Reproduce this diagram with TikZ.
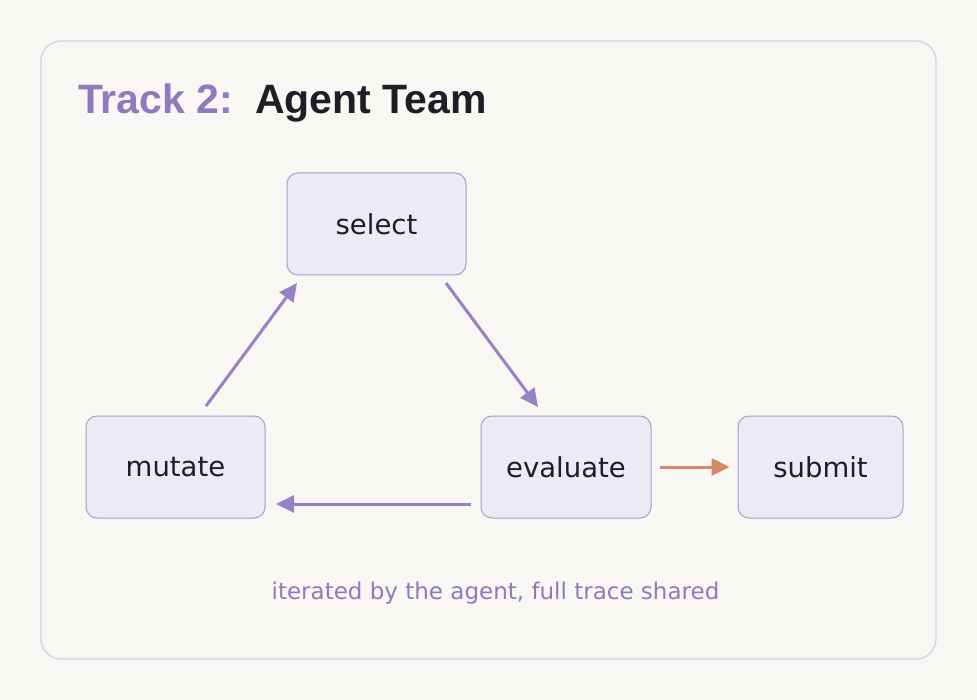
\documentclass[tikz,border=0pt]{standalone}
\usepackage{fontspec}
\setmainfont{DejaVu Sans}
\newfontfamily\titlefont{Liberation Sans}
\usetikzlibrary{arrows.meta}
\definecolor{bg}{HTML}{F8F7F4}
\definecolor{frame}{HTML}{D5CCE6}
\definecolor{boxfill}{HTML}{ECEAF3}
\definecolor{boxline}{HTML}{A99BD0}
\definecolor{purp}{HTML}{9683C6}
\definecolor{purptext}{HTML}{8E7BBE}
\definecolor{ink}{HTML}{1E1E26}
\definecolor{orng}{HTML}{D98867}
\tikzset{
  stepbox/.style={draw=boxline, line width=1pt, fill=boxfill, rounded corners=11pt,
    minimum height=102pt, text=ink, font=\fontsize{27.5}{32}\selectfont, inner sep=0pt},
  flow/.style={draw=purp, line width=3pt, -{Triangle[length=18pt,width=17pt]}},
  outflow/.style={draw=orng, line width=3pt, -{Triangle[length=18pt,width=17pt]}}
}
\begin{document}
\begin{tikzpicture}[x=1pt,y=-1pt]
\useasboundingbox (0,0) rectangle (977,700);
\fill[bg] (0,0) rectangle (977,700);
\draw[frame, line width=1.2pt, rounded corners=20pt, fill=bg] (41,41) rectangle (936,659);
\node[anchor=base west, inner sep=0pt, font=\fontsize{41}{48}\selectfont\titlefont\bfseries] (title) at (78,114)
  {\textcolor{purptext}{Track 2:}\hspace{22pt}\textcolor{ink}{Agent Team}};
\node[stepbox, minimum width=179pt] (select) at (376.5,224) {select};
\node[stepbox, minimum width=179pt] (mutate) at (175.5,467) {mutate};
\node[stepbox, minimum width=170pt] (evaluate) at (566,467) {evaluate};
\node[stepbox, minimum width=165pt] (submit) at (820.5,467) {submit};
\coordinate (a1) at (206,406);
\coordinate (a2) at (297,283);
\draw[flow] (a1) -- (a2);
\coordinate (b1) at (446,283);
\coordinate (b2) at (538,407);
\draw[flow] (b1) -- (b2);
\draw[flow] (evaluate.west |- 0,504) ++(-10,0) coordinate (c1) -- (276,504) coordinate (c2);
\draw[outflow] ([xshift=8pt]evaluate.east) -- ([xshift=-8pt]submit.west);
\node[font=\fontsize{23}{28}\selectfont, text=purptext, inner sep=0pt] (cap) at (495.5,593) {iterated by the agent, full trace shared};
\end{tikzpicture}
\end{document}
